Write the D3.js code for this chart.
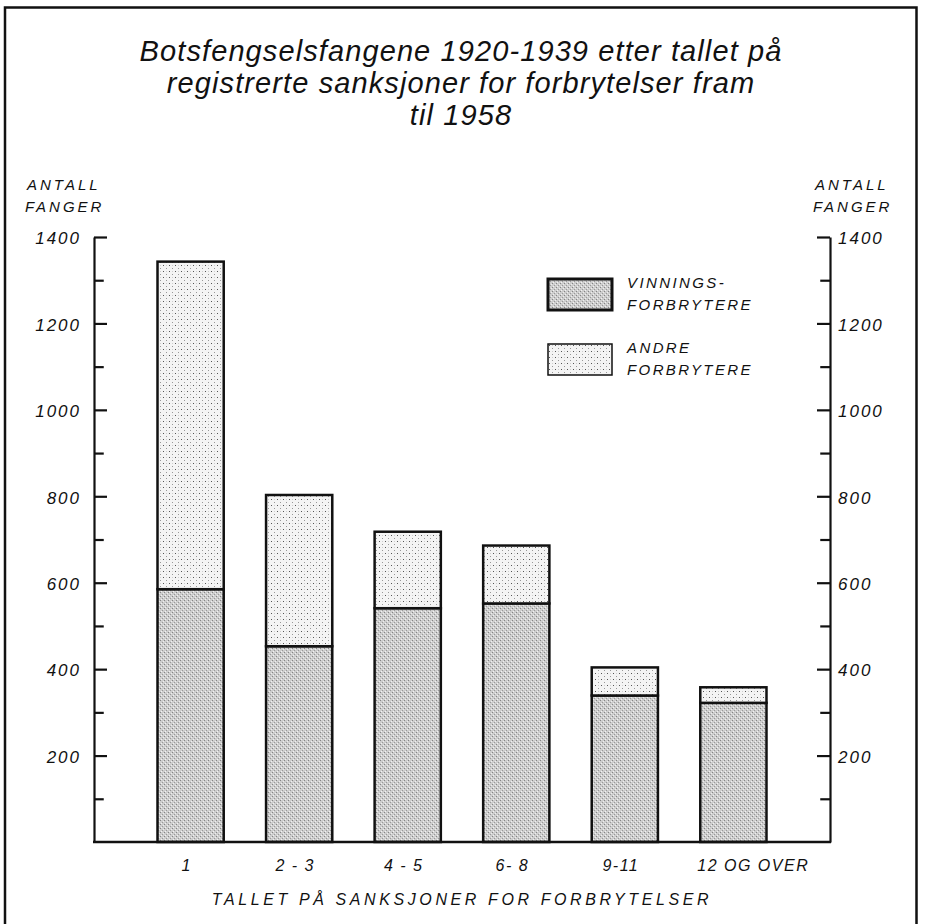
<!DOCTYPE html>
<html>
<head>
<meta charset="utf-8">
<script src="https://cdn.jsdelivr.net/npm/d3@7"></script>
<style>
  body { margin: 0; background: #fff; }
  text { font-family: "Liberation Sans", Arial, sans-serif; font-style: italic; fill: #111; }
</style>
</head>
<body>
<svg class="chart" width="925" height="924"></svg>
<script>
var categories = ["1", "2-3", "4-5", "6-8", "9-11", "12 OG OVER"];
var vinnings = [585, 453, 541, 552, 339, 322];
var andre = [758, 350, 177, 134, 65, 36];
var majorTicks = [200, 400, 600, 800, 1000, 1200, 1400];
var allTicks = d3.range(100, 1401, 100);
var titleLines = ["Botsfengselsfangene 1920-1939 etter tallet på",
  "registrerte sanksjoner for forbrytelser fram", "til 1958"];

var svg = d3.select('.chart');

// frame round the whole figure
svg.append('path').attr('d', 'M5,930 L5,7.5 L916.5,7.5 L916.5,930')
  .attr('fill', 'none').attr('stroke', '#111').attr('stroke-width', 2.5);

// stipple patterns
var defs = svg.append('defs');
var pv = defs.append('pattern').attr('id', 'pv').attr('patternUnits', 'userSpaceOnUse')
  .attr('width', 4).attr('height', 4);
pv.append('rect').attr('width', 4).attr('height', 4).attr('fill', '#cdcdcd');
pv.append('rect').attr('x', 0).attr('y', 0).attr('width', 1).attr('height', 1).attr('fill', '#858585');
pv.append('rect').attr('x', 2).attr('y', 2).attr('width', 1).attr('height', 1).attr('fill', '#999');
pv.append('rect').attr('x', 1).attr('y', 3).attr('width', 1).attr('height', 1).attr('fill', '#f2f2f2');
pv.append('rect').attr('x', 3).attr('y', 1).attr('width', 1).attr('height', 1).attr('fill', '#eeeeee');

var pa = defs.append('pattern').attr('id', 'pa').attr('patternUnits', 'userSpaceOnUse')
  .attr('width', 6).attr('height', 6);
pa.append('rect').attr('width', 6).attr('height', 6).attr('fill', '#f4f4f4');
pa.append('rect').attr('x', 1).attr('y', 1).attr('width', 1).attr('height', 1).attr('fill', '#555');
pa.append('rect').attr('x', 4).attr('y', 4).attr('width', 1).attr('height', 1).attr('fill', '#999');
pa.append('rect').attr('x', 4).attr('y', 1).attr('width', 1).attr('height', 1).attr('fill', '#cfcfcf');

var x = d3.scaleBand().domain(categories).range([94, 830]).paddingInner(0.39).paddingOuter(0.585);
var y = d3.scaleLinear().domain([0, 1400]).range([842, 237]);

// title
svg.append('g').selectAll('text').data(titleLines).enter().append('text')
  .attr('x', 461).attr('y', function(d, i) { return 61 + i * 32; })
  .attr('text-anchor', 'middle').style('font-size', '29px').style('letter-spacing', '1.1px')
  .text(function(d) { return d; });

// bars
var table = categories.map(function(c, i) { return {cat: c, vinnings: vinnings[i], andre: andre[i]}; });
var series = d3.stack().keys(['vinnings', 'andre'])(table);
var fills = {vinnings: 'url(#pv)', andre: 'url(#pa)'};

svg.append('g').selectAll('g').data(series).enter().append('g')
  .attr('fill', function(s) { return fills[s.key]; })
  .selectAll('rect').data(function(s) { return s; }).enter().append('rect')
  .attr('x', function(d) { return x(d.data.cat); })
  .attr('width', x.bandwidth())
  .attr('y', function(d) { return y(d[1]); })
  .attr('height', function(d) { return y(d[0]) - y(d[1]); })
  .attr('stroke', '#111').attr('stroke-width', 2.5);

// axes
function styleAxis(g) {
  g.select('.domain').attr('stroke', '#111').attr('stroke-width', 2.2);
  g.selectAll('.tick line').attr('stroke', '#111').attr('stroke-width', 2.2)
    .each(function(d) {
      if (majorTicks.indexOf(d) < 0) d3.select(this).attr('x2', +d3.select(this).attr('x2') * 0.75);
    });
  g.selectAll('.tick text').style('font-size', '17px').style('letter-spacing', '2px')
    .style('font-family', '"Liberation Sans", Arial, sans-serif').style('font-style', 'italic')
    .attr('fill', '#111').attr('dy', '0.4em');
}
var fmt = function(d) { return majorTicks.indexOf(d) >= 0 ? d : ''; };

svg.append('g').attr('transform', 'translate(94,0)')
  .call(d3.axisLeft(y).tickValues(allTicks).tickFormat(fmt).tickSizeInner(-13).tickSizeOuter(0).tickPadding(13))
  .call(styleAxis);
svg.append('g').attr('transform', 'translate(830,0)')
  .call(d3.axisRight(y).tickValues(allTicks).tickFormat(fmt).tickSizeInner(-13).tickSizeOuter(0).tickPadding(8))
  .call(styleAxis);

// baseline
svg.append('line').attr('x1', 93).attr('x2', 831).attr('y1', y(0)).attr('y2', y(0))
  .attr('stroke', '#111').attr('stroke-width', 2.5);

// category labels
svg.append('g').selectAll('text').data(categories).enter().append('text')
  .attr('x', function(d, i) {
    return i == categories.length - 1 ? x(d) - 3 : x(d) + x.bandwidth() / 2 - 4;
  })
  .attr('y', 871)
  .attr('text-anchor', function(d, i) { return i == categories.length - 1 ? 'start' : 'middle'; })
  .style('font-size', '16px').style('letter-spacing', '1.5px')
  .text(function(d) { return d.replace('-', ' - ').replace('9 - 11', '9-11').replace('6 - 8', '6- 8'); });

svg.append('text').attr('x', 462).attr('y', 905).attr('text-anchor', 'middle')
  .style('font-size', '16px').style('letter-spacing', '3.6px')
  .text('TALLET PÅ  SANKSJONER  FOR  FORBRYTELSER');

// y-axis headings
[27, 815].forEach(function(px) {
  svg.append('text').attr('x', px).attr('y', 190).style('font-size', '15px').style('letter-spacing', '3px').text('ANTALL');
  svg.append('text').attr('x', px - 2).attr('y', 212).style('font-size', '15px').style('letter-spacing', '3px').text('FANGER');
});

// legend
var legendItems = [
  {fill: 'url(#pv)', lines: ['VINNINGS-', 'FORBRYTERE']},
  {fill: 'url(#pa)', lines: ['ANDRE', 'FORBRYTERE']}
];
var legend = svg.append('g').attr('transform', 'translate(548,279)');
legendItems.forEach(function(it, i) {
  var g = legend.append('g').attr('transform', 'translate(0,' + (i * 65) + ')');
  g.append('rect').attr('width', 64).attr('height', 31).attr('fill', it.fill)
    .attr('stroke', '#111').attr('stroke-width', i == 0 ? 3 : 1.5);
  g.selectAll('text').data(it.lines).enter().append('text')
    .attr('x', 79).attr('y', function(d, j) { return 9 + j * 22; })
    .style('font-size', '15px').style('letter-spacing', '2.4px').text(function(d) { return d; });
});
</script>
</body>
</html>
